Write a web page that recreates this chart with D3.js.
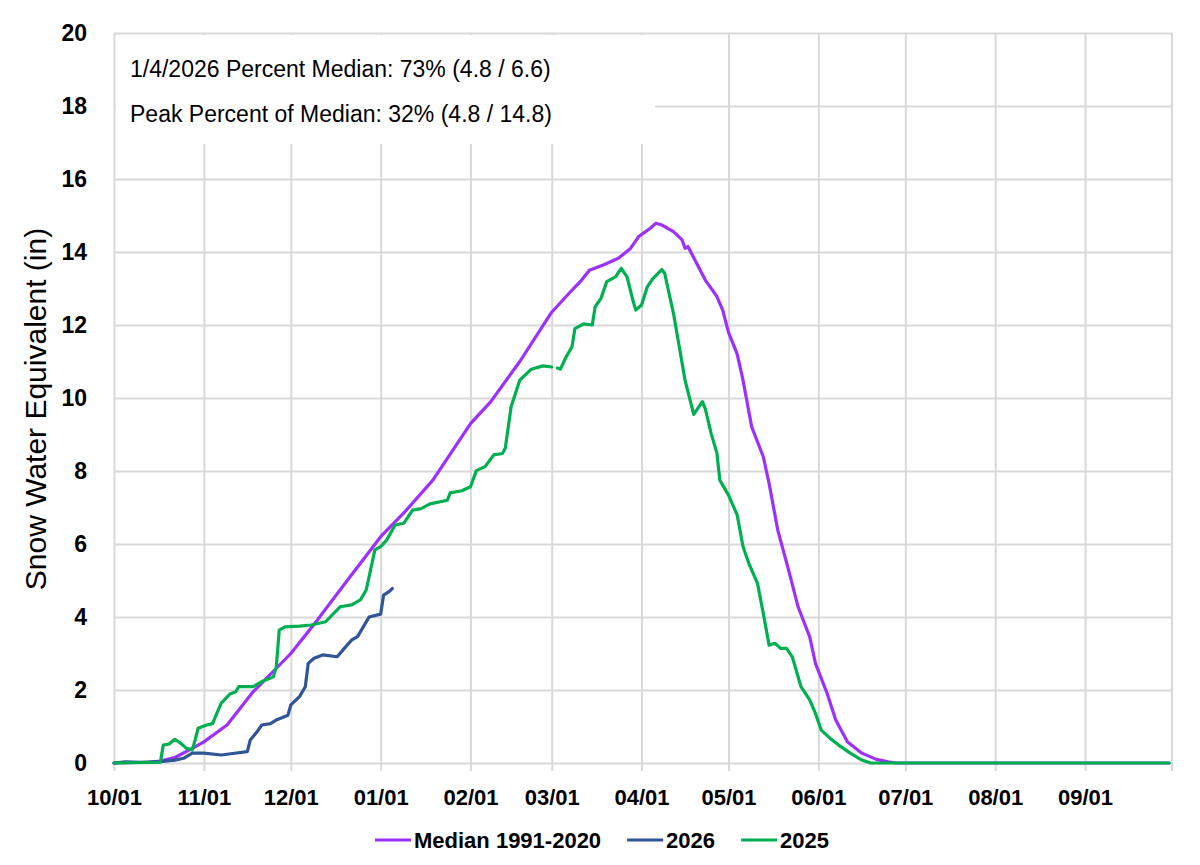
<!DOCTYPE html>
<html>
<head>
<meta charset="utf-8">
<script src="https://cdn.jsdelivr.net/npm/d3@7"></script>
<style>
  body { margin: 0; background: #fff; }
  text { font-family: "Liberation Sans", Arial, sans-serif; }
</style>
</head>
<body>
<div id="chart"></div>
<script>
// water year runs 10/01 -> 09/30, values are days since 10/01
const seriesNames = ["Median 1991-2020", "2026", "2025"];
const seriesColors = ["#9b30ff", "#2f5597", "#00b050"];

const medianDays = [0,12,16,21,27,31,39,48,61,70,80,92,100,110,123,130,140,151,157,161,164,169,174,178,181,185,187,189,193,196,197,198,201,204,208,210,212,215,217,220,224,226,229,233,236,240,242,246,249,253,258,263,267,270,364];
const medianSWE = [0,0.02,0.05,0.15,0.4,0.58,1.04,1.95,3.0,3.9,4.95,6.2,6.85,7.75,9.3,9.9,11.0,12.35,12.87,13.2,13.5,13.65,13.83,14.08,14.42,14.65,14.79,14.74,14.56,14.33,14.1,14.15,13.69,13.23,12.78,12.41,11.8,11.2,10.49,9.21,8.39,7.66,6.38,5.2,4.28,3.46,2.73,1.91,1.18,0.58,0.27,0.1,0.03,0,0];

const days2026 = [0,4,9,16,21,24,27,31,37,41,46,47,49,51,54,56,60,61,64,66,67,69,72,77,79,82,84,86,88,92,93,95,96];
const swe2026 = [0,0.03,0.02,0.04,0.08,0.13,0.27,0.27,0.22,0.26,0.31,0.63,0.82,1.04,1.08,1.18,1.31,1.59,1.82,2.09,2.73,2.87,2.96,2.91,3.10,3.37,3.46,3.73,4.0,4.08,4.6,4.7,4.78];

const days2025 = [0,16,17,19,21,23,25,27,28,29,32,34,35,37,40,42,43,48,51,55,56,57,59,64,68,73,78,82,85,87,89,90,92,94,97,100,103,106,109,115,116,120,123,125,128,131,134,135,137,140,144,148,151,152,153,154,156,158,159,162,165,166,168,170,173,175,177,179,180,182,184,186,189,190,193,195,197,200,203,204,206,208,209,212,215,217,219,222,224,226,228,230,232,234,237,240,242,244,247,250,254,258,261,364];
const swe2025 = [0,0.02,0.49,0.52,0.65,0.54,0.4,0.36,0.63,0.95,1.04,1.08,1.27,1.64,1.89,1.95,2.09,2.09,2.23,2.36,2.64,3.64,3.73,3.75,3.78,3.87,4.28,4.33,4.47,4.74,5.47,5.84,5.93,6.1,6.52,6.57,6.93,6.97,7.1,7.2,7.4,7.46,7.57,8.01,8.12,8.44,8.48,8.63,9.76,10.49,10.79,10.88,10.85,null,10.82,10.79,11.13,11.4,11.9,12.03,12.0,12.5,12.73,13.19,13.32,13.55,13.32,12.68,12.41,12.55,13.05,13.28,13.52,13.41,12.32,11.41,10.49,9.55,9.9,9.7,9.03,8.49,7.75,7.34,6.79,5.93,5.47,4.92,4.1,3.23,3.28,3.14,3.14,2.91,2.09,1.73,1.36,0.9,0.68,0.49,0.27,0.08,0,0];

const yTicks = [0,2,4,6,8,10,12,14,16,18,20];
const noteLines = ["1/4/2026 Percent Median: 73% (4.8 / 6.6)", "Peak Percent of Median: 32% (4.8 / 14.8)"];
const yTitle = "Snow Water Equivalent (in)";

// set the dimensions and margins of the graph
const width = 1200;
const height = 865;
const margin = {top: 33, right: 28, bottom: 102, left: 114};
const innerW = width - margin.left - margin.right;
const innerH = height - margin.top - margin.bottom;

const svg = d3.select("#chart")
  .append("svg")
    .attr("width", width)
    .attr("height", height);

const g = svg.append("g")
  .attr("transform", `translate(${margin.left},${margin.top})`);

const start = new Date(Date.UTC(2024, 9, 1));
const end = d3.utcDay.offset(start, 365);

const x = d3.scaleUtc().domain([start, end]).range([0, innerW]);
const y = d3.scaleLinear().domain([0, 20]).range([innerH, 0]);

// horizontal grid + y labels
const yAxis = g.append("g")
  .call(d3.axisLeft(y).tickValues(yTicks).tickSize(-innerW).tickPadding(27).tickFormat(d3.format("d")));
yAxis.select(".domain").remove();
yAxis.selectAll("line").attr("stroke", "#d9d9d9").attr("stroke-width", 2);
yAxis.selectAll("text")
  .attr("font-size", 23)
  .attr("font-weight", "bold")
  .attr("fill", "#000")
  .attr("font-family", "Liberation Sans, Arial, sans-serif");

// vertical grid + month labels
const months = d3.utcMonth.range(start, end);
const xAxis = g.append("g")
  .attr("transform", `translate(0,${innerH})`)
  .call(d3.axisBottom(x).tickValues(months).tickSize(-innerH).tickPadding(26).tickFormat(d3.utcFormat("%m/%d")));
xAxis.select(".domain").remove();
xAxis.selectAll("line").attr("y1", 8).attr("stroke", "#d9d9d9").attr("stroke-width", 2);
xAxis.selectAll("text")
  .attr("font-size", 22)
  .attr("font-weight", "bold")
  .attr("fill", "#000")
  .attr("font-family", "Liberation Sans, Arial, sans-serif");

// right edge of the plot
g.append("line")
  .attr("x1", x(end)).attr("x2", x(end))
  .attr("y1", 0).attr("y2", innerH + 8)
  .attr("stroke", "#d9d9d9").attr("stroke-width", 2);

// note box in the top left corner
g.append("rect")
  .attr("x", 2).attr("y", 2)
  .attr("width", 539).attr("height", 109)
  .attr("fill", "#fff");

g.selectAll(".note")
  .data(noteLines)
  .join("text")
    .attr("class", "note")
    .attr("x", 16)
    .attr("y", (d, i) => 44 + i * 45)
    .attr("font-size", 23)
    .attr("fill", "#000")
    .text(d => d);

// series
const series = [
  {name: seriesNames[0], color: seriesColors[0], days: medianDays, vals: medianSWE},
  {name: seriesNames[1], color: seriesColors[1], days: days2026, vals: swe2026},
  {name: seriesNames[2], color: seriesColors[2], days: days2025, vals: swe2025}
];
series.forEach(s => {
  s.points = s.days.map((d, i) => ({date: d3.utcDay.offset(start, d), v: s.vals[i]}));
});

const line = d3.line()
  .defined(d => d.v != null)
  .x(d => x(d.date))
  .y(d => y(d.v));

g.selectAll(".series")
  .data(series)
  .join("path")
    .attr("class", "series")
    .attr("fill", "none")
    .attr("stroke", d => d.color)
    .attr("stroke-width", 3.2)
    .attr("stroke-linejoin", "round")
    .attr("stroke-linecap", "round")
    .attr("d", d => line(d.points));

// y axis title
svg.append("text")
  .attr("transform", "translate(46,409) rotate(-90)")
  .attr("text-anchor", "middle")
  .attr("font-size", 30)
  .attr("fill", "#000")
  .text(yTitle);

// legend, centred under the chart
const legend = svg.append("g");
const items = legend.selectAll("g")
  .data(series)
  .join("g");
items.append("line")
  .attr("x1", 0).attr("x2", 36)
  .attr("y1", 0).attr("y2", 0)
  .attr("stroke", d => d.color)
  .attr("stroke-width", 3.2);
items.append("text")
  .attr("x", 39)
  .attr("y", 7.5)
  .attr("font-size", 22)
  .attr("font-weight", "bold")
  .attr("fill", "#000")
  .text(d => d.name);

let pos = 0;
items.each(function() {
  const w = 39 + this.querySelector("text").getComputedTextLength();
  d3.select(this).attr("transform", `translate(${pos},0)`);
  pos += w + 26;
});
const legendW = pos - 26;
legend.attr("transform", `translate(${602 - legendW / 2},840)`);
</script>
</body>
</html>
